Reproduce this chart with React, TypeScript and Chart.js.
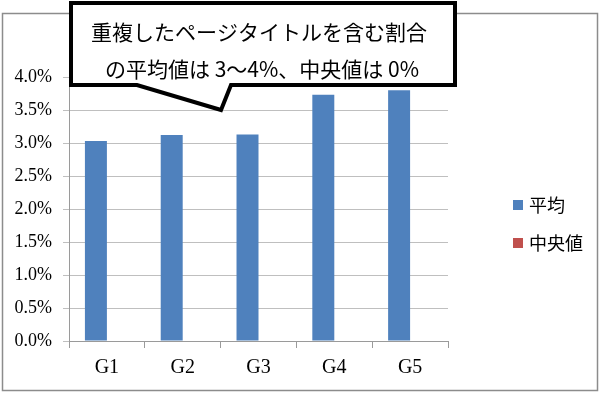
import React, { useEffect, useRef } from "react";
import { Chart, registerables } from "chart.js";

Chart.register(...registerables);

const categories = ["G1", "G2", "G3", "G4", "G5"];
const seriesNames = ["平均", "中央値"];
const averageValues = [3.03, 3.12, 3.13, 3.73, 3.8];
const medianValues = [0, 0, 0, 0, 0];
const yTicks = [0, 0.5, 1, 1.5, 2, 2.5, 3, 3.5, 4];
const calloutLines = ["重複したページタイトルを含む割合", "の平均値は 3～4%、中央値は 0%"];

const SERIF = '"Liberation Serif", "DejaVu Serif", serif';
const CJK = '"Noto Sans CJK JP", "Liberation Serif", serif';

const framePlugin = {
  id: "frame",
  beforeDraw(chart: any) {
    const ctx = chart.ctx;
    ctx.save();
    ctx.fillStyle = "#ffffff";
    ctx.fillRect(0, 0, chart.width, chart.height);
    ctx.strokeStyle = "#8c8c8c";
    ctx.lineWidth = 1.5;
    ctx.strokeRect(2.5, 13.5, 595, 377);
    ctx.restore();
  },
  afterDraw(chart: any) {
    const ctx = chart.ctx;
    // legend
    ctx.save();
    const ds = chart.data.datasets;
    ds.forEach((d: any, i: number) => {
      const y = 205 + i * 38;
      ctx.fillStyle = d.backgroundColor;
      ctx.fillRect(513, y - 5, 10, 10);
      ctx.fillStyle = "#000";
      ctx.font = "18px " + CJK;
      ctx.textBaseline = "middle";
      ctx.textAlign = "left";
      ctx.fillText(d.label, 529, y);
    });
    // callout
    ctx.beginPath();
    ctx.moveTo(71, 3);
    ctx.lineTo(455, 3);
    ctx.lineTo(455, 85);
    ctx.lineTo(231, 85);
    ctx.lineTo(221, 110);
    ctx.lineTo(137, 85);
    ctx.lineTo(71, 85);
    ctx.closePath();
    ctx.fillStyle = "#ffffff";
    ctx.fill();
    ctx.lineWidth = 4;
    ctx.lineJoin = "miter";
    ctx.strokeStyle = "#000";
    ctx.stroke();
    ctx.fillStyle = "#000";
    ctx.font = "21px " + CJK;
    ctx.textAlign = "center";
    ctx.textBaseline = "middle";
    ctx.fillText(calloutLines[0], 259, 32);
    ctx.fillText(calloutLines[1], 262, 69);
    ctx.restore();
  },
};

export default function App() {
  const ref = useRef<HTMLCanvasElement>(null);
  useEffect(() => {
    if (!ref.current) return;
    const chart = new Chart(ref.current, {
      type: "bar",
      data: {
        labels: categories,
        datasets: [
          { label: seriesNames[0], data: averageValues, backgroundColor: "#4f81bd", borderWidth: 0 },
          { label: seriesNames[1], data: medianValues, backgroundColor: "#c0504d", borderWidth: 0 },
        ],
      },
      options: {
        animation: false,
        responsive: false,
        devicePixelRatio: 1,
        layout: { padding: { left: 0, top: 77, right: 152, bottom: 0 } },
        plugins: { legend: { display: false }, tooltip: { enabled: false } },
        datasets: { bar: { categoryPercentage: 0.58, barPercentage: 1 } },
        scales: {
          x: {
            offset: true,
            grid: { display: true, drawOnChartArea: false, drawTicks: true, tickLength: 7, color: "#9a9a9a", offset: true },
            border: { color: "#9a9a9a" },
            ticks: { color: "#000", font: { family: SERIF, size: 20 }, padding: 8 },
            afterFit(s: any) { s.height = 52; },
          },
          y: {
            min: 0,
            max: 4,
            afterBuildTicks(s: any) { s.ticks = yTicks.map((v) => ({ value: v })); },
            grid: { color: "#bfbfbf", tickLength: 6 },
            border: { color: "#9a9a9a" },
            ticks: {
              color: "#000",
              font: { family: SERIF, size: 18 },
              padding: 11,
              callback: (v: any) => Number(v).toFixed(1) + "%",
            },
            afterFit(s: any) { s.width = 69; },
          },
        },
      },
      plugins: [framePlugin],
    } as any);
    return () => chart.destroy();
  }, []);
  return (
    <div style={{ position: "absolute", left: 0, top: 0, width: 600, height: 393 }}>
      <canvas ref={ref} width={600} height={393} style={{ width: 600, height: 393, display: "block" }} />
    </div>
  );
}
